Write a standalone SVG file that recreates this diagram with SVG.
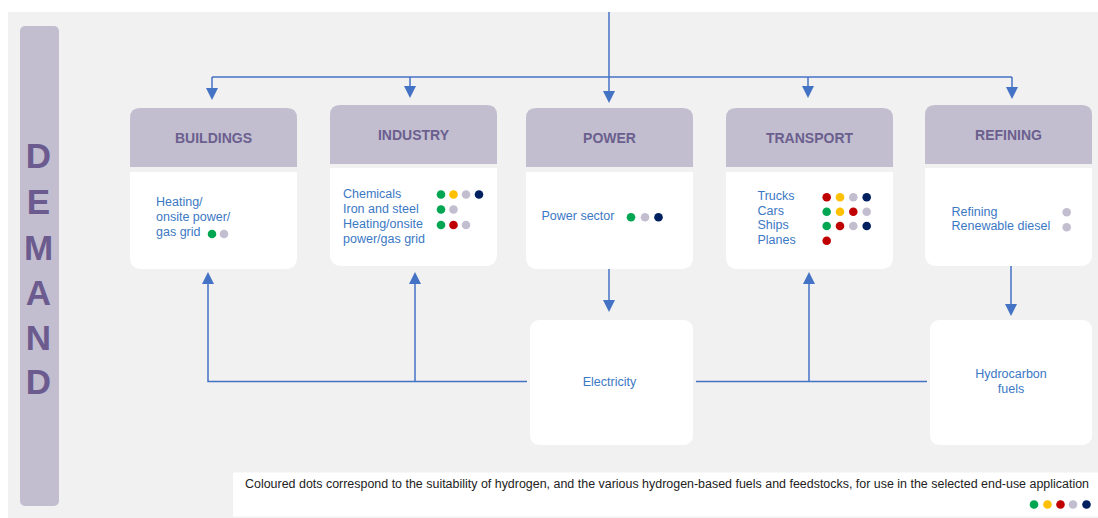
<svg xmlns="http://www.w3.org/2000/svg" width="1098" height="518" viewBox="0 0 1098 518">
  <style>
    .bg { fill: #f1f1f1; }
    .hdr { fill: #c2bed0; }
    .body { fill: #ffffff; }
    .title { font-family: "Liberation Sans", Arial, sans-serif; font-weight: bold; font-size: 14px; fill: #6b5f8e; text-anchor: middle; }
    .demand { font-family: "Liberation Sans", Arial, sans-serif; font-weight: bold; font-size: 35px; fill: #6b5b8e; text-anchor: middle; }
    .item { font-family: "Liberation Sans", Arial, sans-serif; font-size: 12.5px; fill: #3b78c4; }
    .mid { text-anchor: middle; }
    .note { font-family: "Liberation Sans", Arial, sans-serif; font-size: 12.5px; fill: #222222; }
    .link { fill: none; stroke: #4472c4; stroke-width: 1.5; }
    .arr { marker-end: url(#head); }
    .g { fill: #00a651; }
    .y { fill: #ffc000; }
    .r { fill: #c00000; }
    .s { fill: #c2bed0; }
    .n { fill: #002060; }
  </style>
  <defs>
    <marker id="head" viewBox="0 0 12 12" refX="6" refY="6" markerWidth="12" markerHeight="12" markerUnits="userSpaceOnUse" orient="auto">
      <path d="M0,0 L12,6 L0,12 z" fill="#4472c4"/>
    </marker>
  </defs>

  <!-- canvas -->
  <rect x="0" y="0" width="1098" height="518" fill="#ffffff"/>
  <rect class="bg" x="8" y="12" width="1090" height="506"/>

  <!-- side label -->
  <g id="demand">
    <rect class="hdr" x="20" y="26" width="39" height="480" rx="5"/>
    <text class="demand" x="38.5" y="168">D</text>
    <text class="demand" x="38.5" y="214">E</text>
    <text class="demand" x="38.5" y="260">M</text>
    <text class="demand" x="38.5" y="305">A</text>
    <text class="demand" x="38.5" y="350">N</text>
    <text class="demand" x="38.5" y="394">D</text>
  </g>

  <!-- connectors -->
  <g id="connectors">
    <path class="link arr" d="M609,12 V97"/>
    <path class="link" d="M212,77 H1012"/>
    <path class="link arr" d="M212,77 V94"/>
    <path class="link arr" d="M410,77 V92"/>
    <path class="link arr" d="M808,77 V92"/>
    <path class="link arr" d="M1012,77 V93"/>
    <path class="link arr" d="M609,269 V306"/>
    <path class="link arr" d="M1011,266 V310"/>
    <path class="link arr" d="M527,381.5 H208 V278"/>
    <path class="link arr" d="M415,381.5 V278"/>
    <path class="link" d="M696,381.5 H927"/>
    <path class="link arr" d="M809,381.5 V278"/>
  </g>

  <!-- sector nodes -->
  <g id="buildings">
    <path class="hdr" d="M130,167 V118 Q130,108 140,108 H287 Q297,108 297,118 V167 Z"/>
    <path class="body" d="M130,172 H297 V257 Q297,269 285,269 H142 Q130,269 130,257 Z"/>
    <text class="title" x="213.5" y="143">BUILDINGS</text>
    <text class="item" x="156" y="205.5">Heating/</text>
    <text class="item" x="156" y="220.5">onsite power/</text>
    <text class="item" x="156" y="235.5">gas grid</text>
    <circle class="g" cx="212" cy="234" r="4.3"/>
    <circle class="s" cx="224" cy="234" r="4.3"/>
  </g>

  <g id="industry">
    <path class="hdr" d="M330,164 V115 Q330,105 340,105 H487 Q497,105 497,115 V164 Z"/>
    <path class="body" d="M330,168 H497 V254 Q497,266 485,266 H342 Q330,266 330,254 Z"/>
    <text class="title" x="413.5" y="140">INDUSTRY</text>
    <text class="item" x="343" y="198.3">Chemicals</text>
    <text class="item" x="343" y="213.3">Iron and steel</text>
    <text class="item" x="343" y="228.3">Heating/onsite</text>
    <text class="item" x="343" y="243">power/gas grid</text>
    <circle class="g" cx="441" cy="194.5" r="4.3"/>
    <circle class="y" cx="453.5" cy="194.5" r="4.3"/>
    <circle class="s" cx="466" cy="194.5" r="4.3"/>
    <circle class="n" cx="479" cy="194.5" r="4.3"/>
    <circle class="g" cx="441" cy="209.5" r="4.3"/>
    <circle class="s" cx="453.5" cy="209.5" r="4.3"/>
    <circle class="g" cx="441" cy="225" r="4.3"/>
    <circle class="r" cx="453.5" cy="225" r="4.3"/>
    <circle class="s" cx="466" cy="225" r="4.3"/>
  </g>

  <g id="power">
    <path class="hdr" d="M526,167 V118 Q526,108 536,108 H683 Q693,108 693,118 V167 Z"/>
    <path class="body" d="M526,172 H693 V257 Q693,269 681,269 H538 Q526,269 526,257 Z"/>
    <text class="title" x="609.5" y="143">POWER</text>
    <text class="item" x="541.5" y="220">Power sector</text>
    <circle class="g" cx="631" cy="217.3" r="4.3"/>
    <circle class="s" cx="645" cy="217.3" r="4.3"/>
    <circle class="n" cx="658.5" cy="217.3" r="4.3"/>
  </g>

  <g id="transport">
    <path class="hdr" d="M726,167 V118 Q726,108 736,108 H883 Q893,108 893,118 V167 Z"/>
    <path class="body" d="M726,172 H893 V257 Q893,269 881,269 H738 Q726,269 726,257 Z"/>
    <text class="title" x="809.5" y="143">TRANSPORT</text>
    <text class="item" x="757.5" y="200">Trucks</text>
    <text class="item" x="757.5" y="214.5">Cars</text>
    <text class="item" x="757.5" y="229.3">Ships</text>
    <text class="item" x="757.5" y="244">Planes</text>
    <circle class="r" cx="826.7" cy="197.3" r="4.3"/>
    <circle class="y" cx="840" cy="197.3" r="4.3"/>
    <circle class="s" cx="853.3" cy="197.3" r="4.3"/>
    <circle class="n" cx="866.7" cy="197.3" r="4.3"/>
    <circle class="g" cx="826.7" cy="211.7" r="4.3"/>
    <circle class="y" cx="840" cy="211.7" r="4.3"/>
    <circle class="r" cx="853.3" cy="211.7" r="4.3"/>
    <circle class="s" cx="866.7" cy="211.7" r="4.3"/>
    <circle class="g" cx="826.7" cy="226" r="4.3"/>
    <circle class="r" cx="840" cy="226" r="4.3"/>
    <circle class="s" cx="853.3" cy="226" r="4.3"/>
    <circle class="n" cx="866.7" cy="226" r="4.3"/>
    <circle class="r" cx="826.7" cy="240.7" r="4.3"/>
  </g>

  <g id="refining">
    <path class="hdr" d="M925,164 V115 Q925,105 935,105 H1082 Q1092,105 1092,115 V164 Z"/>
    <path class="body" d="M925,168 H1092 V254 Q1092,266 1080,266 H937 Q925,266 925,254 Z"/>
    <text class="title" x="1008.5" y="140">REFINING</text>
    <text class="item" x="951.5" y="215.5">Refining</text>
    <text class="item" x="951.5" y="230">Renewable diesel</text>
    <circle class="s" cx="1066.7" cy="212.3" r="4.3"/>
    <circle class="s" cx="1066.7" cy="227.3" r="4.3"/>
  </g>

  <!-- carrier nodes -->
  <g id="electricity">
    <rect class="body" x="530" y="320" width="163" height="125" rx="9"/>
    <text class="item mid" x="609.5" y="386">Electricity</text>
  </g>

  <g id="hydrocarbon-fuels">
    <rect class="body" x="930" y="320" width="162" height="125" rx="9"/>
    <text class="item mid" x="1011" y="377.5">Hydrocarbon</text>
    <text class="item mid" x="1011" y="392.5">fuels</text>
  </g>

  <!-- legend note -->
  <g id="legend">
    <rect class="body" x="233" y="472.5" width="865" height="44"/>
    <text class="note" x="245" y="488" textLength="844" lengthAdjust="spacingAndGlyphs">Coloured dots correspond to the suitability of hydrogen, and the various hydrogen-based fuels and feedstocks, for use in the selected end-use application</text>
    <circle class="g" cx="1034" cy="504.5" r="4.3"/>
    <circle class="y" cx="1047.5" cy="504.5" r="4.3"/>
    <circle class="r" cx="1060.5" cy="504.5" r="4.3"/>
    <circle class="s" cx="1073" cy="504.5" r="4.3"/>
    <circle class="n" cx="1086.5" cy="504.5" r="4.3"/>
  </g>
</svg>
